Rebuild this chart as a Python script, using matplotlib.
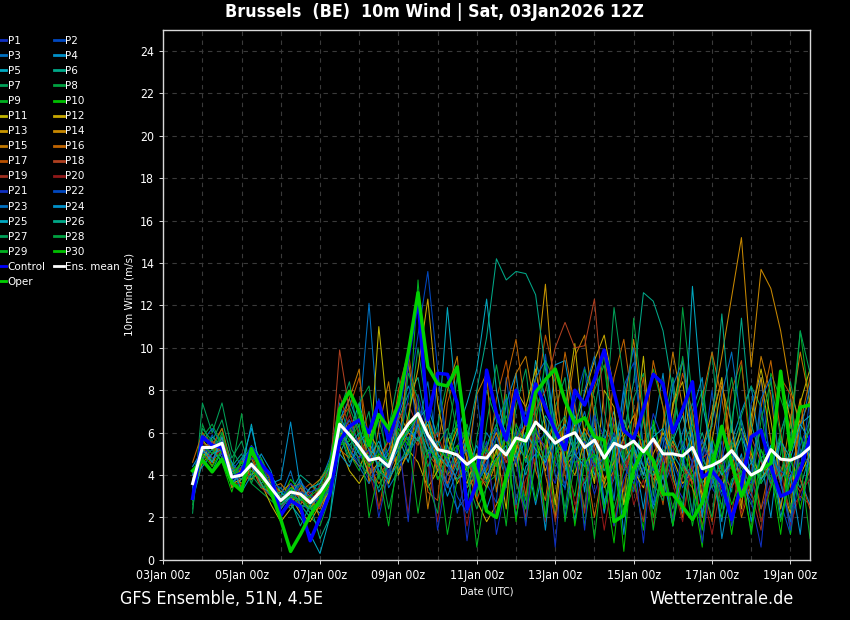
import matplotlib
matplotlib.use("Agg")
import matplotlib.pyplot as plt
import matplotlib.dates as mdates
import pandas as pd

# ---- data (m/s), 6-hourly from 03Jan 18z to 19Jan 12z ----
times = pd.date_range("2026-01-03 18:00", periods=64, freq="6h")

ens_mean = [3.6, 5.3, 5.3, 5.5, 3.9, 4.0, 4.5, 4.0, 3.4, 2.8, 3.2, 3.1, 2.7, 3.2, 3.9, 6.4,
            5.9, 5.35, 4.7, 4.8, 4.4, 5.7, 6.4, 6.9, 5.9, 5.2, 5.1, 4.95, 4.5, 4.85, 4.8, 5.4,
            4.95, 5.75, 5.6, 6.5, 6.05, 5.5, 5.8, 6.0, 5.3, 5.65, 4.8, 5.5, 5.3, 5.6, 5.1, 5.7,
            5.0, 5.0, 4.9, 5.3, 4.3, 4.45, 4.7, 5.15, 4.55, 4.0, 4.25, 5.2, 4.75, 4.7, 4.9, 5.3]

control = [2.9, 5.8, 5.4, 5.3, 3.85, 4.1, 5.3, 4.5, 4.0, 2.1, 2.8, 2.5, 0.9, 2.0, 3.1, 5.6,
           6.3, 6.6, 6.0, 7.45, 5.6, 7.1, 9.6, 12.3, 6.6, 8.8, 8.75, 7.4, 2.4, 3.6, 8.95, 6.9,
           5.65, 8.0, 6.4, 8.3, 7.2, 6.1, 5.2, 8.0, 7.3, 8.5, 9.9, 7.9, 6.1, 5.7, 7.1, 8.75,
           8.3, 6.0, 7.1, 8.4, 3.9, 4.2, 3.6, 1.9, 3.5, 5.8, 6.1, 4.4, 3.0, 3.2, 4.2, 5.8]

oper = [4.2, 4.7, 4.15, 4.75, 3.65, 3.25, 5.25, 4.2, 3.2, 1.9, 0.4, 1.2, 2.1, 2.8, 4.0, 7.1,
        7.95, 7.0, 5.4, 6.85, 6.2, 7.35, 9.75, 12.6, 9.1, 8.3, 8.2, 9.1, 5.5, 4.1, 2.3, 2.0,
        3.9, 5.7, 5.6, 7.9, 8.5, 9.0, 7.5, 6.45, 6.7, 5.8, 5.65, 1.8, 2.1, 4.25, 5.25, 4.7,
        3.1, 3.1, 2.5, 1.9, 2.7, 4.4, 6.3, 4.55, 3.0, 4.0, 4.25, 4.55, 8.9, 5.2, 7.2, 7.3]

p01 = [3.1, 5.6, 5.0, 5.8, 3.6, 4.2, 4.8, 3.5, 3.0, 2.4, 3.6, 2.9, 2.2, 3.0, 4.4, 6.8,
       5.2, 4.6, 3.8, 4.1, 5.2, 6.4, 5.1, 7.8, 6.0, 4.2, 3.5, 5.4, 6.1, 3.8, 4.4, 6.2,
       4.1, 5.0, 7.2, 6.3, 4.5, 3.6, 5.8, 7.4, 4.9, 3.1, 4.6, 6.7, 5.0, 3.2, 4.4, 6.9,
       5.6, 3.8, 2.9, 4.6, 5.7, 3.4, 2.6, 4.8, 6.2, 3.9, 2.4, 3.6, 5.5, 4.2, 2.8, 4.6]
p02 = [3.8, 5.0, 5.9, 5.1, 4.2, 3.6, 4.0, 4.7, 3.8, 2.2, 2.9, 3.7, 3.1, 2.5, 3.6, 5.9,
       6.4, 5.0, 4.2, 7.6, 3.9, 4.8, 9.2, 6.0, 3.6, 8.8, 5.4, 2.2, 4.0, 7.9, 3.6, 2.7,
       8.6, 5.2, 2.4, 4.6, 9.7, 6.0, 3.3, 7.4, 9.1, 5.0, 2.3, 4.4, 8.2, 9.3, 5.1, 2.6,
       4.0, 8.4, 5.2, 2.1, 4.6, 8.0, 4.2, 1.9, 3.3, 7.4, 8.6, 4.1, 2.7, 1.2, 4.3, 7.6]
p03 = [4.0, 5.4, 4.6, 6.0, 4.6, 4.0, 5.0, 4.4, 3.2, 3.0, 4.2, 2.6, 2.0, 3.6, 4.8, 7.4,
       5.8, 6.6, 12.1, 6.0, 3.4, 4.2, 5.6, 6.2, 8.4, 5.0, 3.6, 2.4, 3.0, 4.4, 6.0, 5.2,
       3.8, 6.2, 4.6, 7.8, 6.6, 4.0, 3.4, 5.6, 7.0, 4.6, 2.8, 3.8, 5.8, 4.4, 6.6, 4.8,
       3.4, 4.6, 6.0, 7.4, 5.0, 3.6, 4.8, 6.4, 4.0, 3.0, 5.2, 3.8, 2.6, 4.4, 5.8, 4.9]
p04 = [4.4, 5.2, 5.6, 4.8, 4.0, 4.6, 6.2, 4.2, 3.6, 3.8, 6.5, 3.4, 2.6, 2.2, 3.4, 6.6,
       7.6, 6.2, 4.8, 3.2, 4.0, 6.8, 8.2, 7.0, 5.4, 4.6, 3.0, 4.2, 5.8, 3.6, 2.4, 3.8,
       7.4, 8.8, 5.0, 2.6, 4.8, 9.2, 9.4, 6.6, 3.2, 7.2, 2.6, 4.8, 8.0, 5.2, 2.4, 6.0,
       8.8, 4.4, 2.2, 7.0, 8.6, 4.0, 1.8, 5.6, 7.0, 8.2, 4.8, 2.0, 6.0, 7.6, 3.8, 2.6]
p05 = [2.8, 4.6, 5.8, 5.4, 3.4, 3.8, 4.4, 3.6, 4.0, 3.2, 2.6, 2.0, 1.2, 0.3, 2.0, 5.0,
       6.0, 7.4, 5.6, 4.4, 5.0, 5.8, 4.6, 6.6, 7.2, 5.8, 11.9, 7.0, 4.8, 3.4, 5.2, 7.0,
       6.0, 4.4, 5.8, 9.4, 7.6, 5.4, 4.2, 6.8, 5.6, 4.0, 5.6, 7.0, 4.6, 3.8, 5.4, 6.4,
       4.4, 5.6, 6.8, 5.0, 3.6, 4.4, 6.0, 5.2, 3.8, 4.6, 6.2, 5.0, 3.6, 5.2, 6.4, 6.8]
p06 = [3.4, 4.8, 4.2, 5.2, 4.4, 5.0, 3.8, 4.6, 3.4, 2.6, 3.2, 4.0, 3.6, 3.2, 4.2, 6.0,
       4.6, 5.2, 4.0, 5.4, 3.6, 6.6, 7.8, 8.6, 6.0, 4.4, 5.6, 6.4, 4.2, 5.0, 3.8, 4.6,
       6.0, 5.2, 4.0, 5.6, 6.8, 6.0, 4.8, 5.0, 3.6, 4.4, 6.2, 5.4, 6.0, 8.4, 12.6, 12.2,
       10.8, 8.0, 5.4, 4.6, 6.0, 4.4, 3.2, 5.2, 6.6, 4.8, 3.6, 4.4, 5.8, 4.2, 3.4, 5.0]
p07 = [2.2, 7.4, 6.0, 7.4, 5.2, 4.4, 5.4, 4.8, 3.6, 3.0, 2.8, 2.4, 3.0, 3.8, 4.6, 7.0,
       8.4, 5.6, 7.0, 3.8, 6.2, 8.6, 6.4, 10.0, 6.8, 3.8, 4.6, 7.4, 2.6, 5.8, 8.0, 6.6,
       3.4, 7.2, 9.0, 5.0, 2.0, 7.2, 8.6, 4.6, 2.4, 7.0, 9.8, 4.4, 2.6, 7.6, 8.8, 3.0,
       6.2, 8.6, 4.8, 2.2, 7.0, 9.8, 4.6, 3.2, 6.8, 8.2, 7.2, 3.4, 5.0, 8.4, 6.0, 3.2]
p08 = [2.6, 6.4, 5.2, 6.2, 4.2, 6.9, 3.6, 3.2, 2.8, 2.4, 3.4, 2.6, 2.0, 1.6, 3.0, 5.6,
       7.2, 6.0, 4.4, 5.2, 3.8, 4.6, 5.2, 6.2, 4.8, 6.4, 8.4, 6.0, 3.8, 2.4, 3.4, 5.8,
       4.8, 5.6, 7.0, 8.0, 5.6, 4.4, 5.2, 6.2, 4.6, 3.8, 5.0, 6.4, 4.8, 4.2, 5.6, 4.6,
       3.8, 5.0, 11.9, 7.6, 4.6, 3.4, 4.2, 5.4, 3.6, 2.6, 3.8, 4.4, 6.0, 7.4, 5.2, 4.4]
p09 = [3.2, 5.8, 4.6, 5.6, 3.8, 3.4, 4.2, 3.8, 3.0, 3.4, 2.8, 3.6, 2.4, 3.4, 4.0, 6.2,
       5.0, 4.2, 5.8, 6.6, 4.8, 5.4, 6.0, 13.2, 7.0, 4.8, 4.0, 5.2, 6.4, 4.6, 3.6, 4.0,
       7.8, 4.6, 2.8, 6.4, 9.4, 8.4, 4.6, 3.0, 6.2, 8.0, 9.2, 5.4, 2.2, 3.4, 6.8, 9.0,
       7.2, 3.8, 2.6, 6.6, 8.0, 5.0, 2.4, 6.6, 9.2, 5.4, 3.6, 8.8, 7.6, 6.2, 10.8, 7.2]
p10 = [3.0, 5.0, 5.4, 4.6, 3.2, 4.8, 5.2, 4.0, 3.6, 2.8, 3.8, 3.2, 2.8, 3.0, 3.6, 5.4,
       5.6, 6.8, 4.6, 4.0, 4.4, 6.2, 5.4, 6.6, 5.0, 3.8, 4.6, 6.6, 5.4, 3.2, 4.2, 5.0,
       6.8, 5.4, 1.8, 4.6, 6.2, 2.0, 4.4, 5.6, 1.6, 4.8, 3.8, 0.8, 5.4, 4.0, 1.4, 6.6,
       4.6, 1.6, 4.0, 3.4, 0.6, 5.8, 4.2, 1.2, 4.6, 5.4, 1.8, 3.4, 5.8, 1.2, 5.8, 4.8]
p11 = [3.6, 5.2, 4.8, 5.0, 3.6, 3.8, 4.6, 3.6, 2.6, 1.8, 2.4, 3.0, 2.6, 3.4, 4.0, 5.4,
       4.2, 3.6, 4.4, 11.0, 6.4, 4.0, 5.2, 4.6, 3.4, 4.2, 5.8, 4.4, 3.6, 5.0, 3.8, 5.2,
       2.4, 8.0, 7.2, 9.0, 6.2, 2.6, 7.0, 10.2, 5.6, 3.6, 8.0, 7.2, 2.6, 5.4, 9.6, 4.2,
       3.0, 7.4, 8.4, 5.2, 2.8, 6.6, 8.6, 4.4, 2.4, 6.8, 9.0, 6.6, 3.6, 2.2, 7.4, 9.0]
p12 = [4.2, 4.8, 5.6, 5.2, 3.8, 4.2, 4.0, 4.4, 3.8, 2.6, 3.0, 2.2, 1.8, 2.6, 3.2, 5.8,
       6.6, 5.4, 4.0, 4.6, 3.6, 5.0, 6.8, 9.0, 12.3, 7.4, 5.0, 3.6, 4.4, 2.8, 1.8, 2.6,
       3.6, 5.2, 6.4, 5.6, 4.2, 5.8, 4.6, 6.4, 7.8, 9.4, 10.6, 8.0, 5.6, 4.2, 3.4, 5.0,
       6.0, 4.8, 3.6, 4.2, 5.6, 4.4, 3.4, 4.8, 6.2, 5.0, 3.8, 4.6, 8.6, 6.6, 4.0, 5.0]
p13 = [3.4, 5.6, 5.2, 5.4, 4.0, 3.6, 4.4, 3.4, 3.2, 2.2, 2.6, 3.4, 3.0, 2.0, 3.8, 6.0,
       5.4, 4.8, 6.0, 5.2, 4.6, 7.0, 6.0, 5.6, 6.4, 4.6, 3.6, 4.8, 6.0, 4.2, 3.4, 4.6,
       5.8, 4.4, 6.6, 8.6, 13.0, 7.0, 4.8, 4.0, 5.6, 4.4, 3.6, 5.0, 6.6, 5.2, 4.0, 5.6,
       4.6, 7.2, 9.4, 6.0, 3.0, 5.6, 8.2, 6.4, 3.0, 6.0, 8.6, 5.6, 2.4, 5.2, 7.6, 4.2]
p14 = [3.8, 5.4, 4.4, 5.8, 4.2, 4.0, 3.8, 4.2, 3.6, 3.2, 3.6, 2.8, 2.4, 3.2, 4.2, 6.4,
       5.0, 4.4, 5.2, 4.8, 5.6, 4.2, 5.0, 7.2, 5.8, 4.2, 5.0, 6.2, 4.8, 3.6, 5.0, 6.0,
       4.6, 5.4, 4.8, 6.0, 5.2, 6.6, 4.4, 5.0, 6.2, 5.4, 3.8, 4.6, 5.8, 6.8, 5.0, 3.8,
       4.4, 5.6, 4.6, 3.6, 5.2, 7.0, 9.6, 12.4, 15.2, 9.1, 13.7, 12.8, 10.8, 8.0, 6.4, 7.6]
p15 = [3.2, 4.6, 5.0, 5.6, 3.4, 4.4, 4.8, 3.8, 3.4, 3.6, 3.0, 2.6, 3.4, 3.8, 4.4, 6.2,
       7.6, 9.0, 3.6, 6.2, 8.4, 5.2, 9.4, 6.4, 2.4, 5.4, 8.0, 9.6, 4.6, 7.8, 8.8, 3.2,
       6.0, 8.8, 9.6, 7.0, 4.0, 2.0, 6.4, 9.6, 10.6, 6.6, 3.4, 4.2, 7.0, 10.4, 6.6, 3.4,
       6.4, 9.8, 7.2, 3.4, 2.0, 6.8, 8.4, 5.2, 2.6, 6.4, 9.6, 7.8, 3.8, 6.6, 9.8, 7.4]
p16 = [4.6, 6.0, 5.4, 6.2, 4.4, 3.4, 4.2, 4.0, 3.0, 2.8, 3.4, 3.6, 2.8, 2.4, 3.6, 5.2,
       4.8, 5.8, 4.4, 3.6, 4.2, 5.0, 6.0, 5.4, 6.8, 5.4, 4.0, 4.6, 3.4, 4.0, 5.4, 4.4,
       8.4, 10.4, 7.0, 4.2, 2.8, 6.4, 9.8, 7.2, 4.8, 2.0, 4.6, 8.6, 10.4, 7.0, 5.0, 9.4,
       7.2, 4.0, 2.0, 4.6, 7.6, 9.8, 7.6, 4.8, 2.0, 3.6, 7.2, 9.4, 6.0, 3.4, 6.4, 8.6]
p17 = [3.6, 5.0, 4.6, 5.4, 3.8, 4.6, 5.0, 3.8, 3.8, 3.0, 2.8, 3.2, 3.6, 3.0, 4.6, 6.6,
       7.2, 8.6, 5.6, 2.4, 4.8, 8.0, 9.8, 6.8, 3.2, 2.8, 7.4, 9.0, 5.8, 2.8, 4.2, 7.6,
       9.4, 6.0, 3.0, 7.4, 10.6, 8.6, 4.0, 2.2, 5.4, 8.2, 9.8, 6.2, 3.2, 6.4, 8.6, 4.8,
       2.6, 6.6, 8.8, 7.0, 3.6, 1.8, 5.0, 8.0, 9.4, 4.6, 2.4, 4.6, 8.6, 7.8, 3.8, 2.4]
p18 = [3.0, 5.2, 5.6, 5.0, 4.0, 3.8, 4.4, 4.2, 3.2, 2.6, 3.0, 3.4, 2.8, 3.2, 4.0, 9.9,
       7.0, 5.2, 4.6, 4.0, 4.6, 5.4, 6.6, 6.0, 5.0, 4.4, 3.6, 5.0, 4.6, 3.8, 4.8, 5.4,
       4.6, 5.6, 6.4, 7.0, 8.0, 10.0, 11.2, 10.0, 10.1, 12.3, 7.0, 5.0, 4.2, 5.2, 4.4, 3.8,
       4.6, 5.4, 4.4, 3.6, 4.8, 5.2, 4.0, 3.4, 4.4, 5.8, 4.6, 3.6, 4.8, 4.0, 3.2, 4.2]
p19 = [3.8, 4.8, 5.0, 5.8, 4.4, 4.2, 4.6, 3.4, 3.0, 2.4, 3.2, 3.0, 3.2, 2.6, 4.2, 7.8,
       6.2, 5.6, 5.0, 4.6, 5.6, 6.6, 7.4, 6.2, 5.4, 6.0, 4.4, 3.8, 4.6, 4.0, 3.6, 4.8,
       5.2, 3.8, 2.0, 5.8, 5.4, 1.8, 4.6, 5.4, 2.2, 5.8, 5.0, 1.6, 4.8, 3.6, 1.8, 5.6,
       4.2, 2.0, 4.0, 4.4, 1.6, 3.8, 4.6, 2.2, 4.8, 3.2, 1.4, 5.0, 3.6, 2.4, 3.0, 2.6]
p20 = [3.4, 5.6, 4.8, 5.2, 3.6, 3.6, 4.2, 4.4, 3.8, 3.0, 2.6, 2.8, 2.6, 3.6, 3.8, 5.6,
       6.8, 6.0, 4.2, 2.4, 4.0, 5.6, 2.2, 5.8, 4.6, 1.8, 5.2, 4.4, 1.6, 4.6, 5.0, 2.0,
       5.0, 2.4, 3.8, 4.8, 1.8, 4.8, 5.4, 2.6, 3.8, 4.6, 1.4, 4.2, 5.6, 2.6, 3.8, 1.6,
       5.0, 3.6, 1.8, 4.8, 3.4, 1.2, 3.8, 4.4, 2.2, 4.0, 1.8, 3.6, 4.4, 1.6, 3.2, 3.8]
p21 = [3.6, 5.0, 5.4, 5.6, 4.0, 4.4, 4.8, 4.6, 3.4, 2.8, 3.6, 3.2, 3.0, 2.8, 3.4, 5.8,
       5.4, 4.8, 5.2, 2.0, 4.2, 5.8, 1.8, 7.4, 5.6, 1.4, 4.2, 5.2, 0.9, 4.4, 5.6, 1.2,
       3.6, 4.8, 1.6, 6.2, 5.2, 0.6, 6.2, 5.4, 1.4, 6.8, 5.8, 1.6, 3.8, 5.0, 0.8, 5.8,
       4.8, 1.8, 5.6, 4.6, 0.8, 4.2, 5.6, 1.6, 3.6, 2.8, 0.6, 5.4, 3.8, 1.4, 5.2, 4.4]
p22 = [3.2, 5.4, 4.8, 5.0, 3.6, 4.0, 4.4, 3.8, 3.6, 3.4, 2.8, 3.6, 3.2, 3.4, 3.8, 6.0,
       6.6, 5.4, 4.6, 5.2, 4.0, 5.4, 7.6, 10.6, 13.6, 9.0, 4.6, 3.0, 2.2, 3.6, 4.6, 5.8,
       4.2, 5.8, 7.0, 5.4, 6.0, 4.6, 3.6, 4.8, 5.6, 4.4, 4.8, 6.0, 4.4, 3.6, 5.0, 4.2,
       5.8, 4.6, 3.4, 4.6, 5.6, 4.4, 3.0, 5.0, 4.2, 3.6, 7.2, 4.8, 4.2, 3.8, 5.4, 6.6]
p23 = [4.0, 5.6, 6.2, 5.4, 4.2, 4.8, 5.2, 4.2, 3.4, 2.8, 3.4, 2.6, 2.4, 2.6, 4.0, 6.4,
       5.2, 4.4, 3.6, 4.6, 5.2, 6.6, 5.6, 7.0, 5.8, 4.6, 3.4, 4.6, 5.2, 3.6, 4.4, 6.4,
       7.6, 2.6, 5.2, 8.6, 9.4, 5.4, 2.0, 5.4, 8.0, 9.6, 5.8, 2.8, 7.6, 10.0, 5.2, 2.6,
       5.4, 8.2, 9.4, 5.6, 2.2, 3.6, 7.8, 9.8, 6.4, 3.8, 7.6, 8.6, 3.6, 1.8, 6.0, 8.2]
p24 = [3.8, 4.4, 5.0, 5.2, 4.6, 3.2, 4.0, 5.0, 4.2, 2.4, 3.0, 3.8, 2.6, 3.0, 3.6, 5.0,
       4.4, 5.6, 6.0, 4.2, 3.8, 4.6, 5.0, 6.4, 5.0, 5.6, 4.6, 3.8, 4.2, 5.4, 4.0, 4.8,
       5.4, 2.0, 4.4, 5.0, 1.4, 6.2, 4.8, 1.8, 5.2, 6.2, 2.2, 5.6, 1.2, 5.8, 4.4, 2.4,
       4.0, 1.6, 4.6, 6.0, 2.0, 5.6, 1.0, 3.6, 5.0, 1.8, 4.2, 5.4, 2.0, 4.0, 1.2, 5.6]
p25 = [3.4, 5.2, 4.6, 5.8, 3.6, 4.2, 6.4, 4.0, 3.2, 2.6, 3.0, 2.8, 3.4, 3.6, 4.4, 6.8,
       5.8, 5.0, 4.8, 5.6, 4.4, 5.2, 6.2, 5.6, 6.6, 5.0, 4.4, 6.0, 7.4, 9.0, 12.3, 8.0,
       5.6, 4.8, 6.0, 5.2, 4.6, 5.8, 6.4, 5.0, 4.4, 5.6, 4.8, 5.8, 4.6, 5.4, 4.0, 5.8,
       6.2, 5.0, 4.2, 12.9, 7.4, 5.0, 4.0, 4.6, 5.8, 4.6, 3.8, 4.4, 5.6, 4.8, 6.4, 5.6]
p26 = [3.6, 4.8, 5.2, 4.6, 4.2, 3.8, 4.6, 3.6, 3.0, 3.2, 2.8, 1.6, 2.6, 1.0, 2.0, 6.2,
       5.4, 6.0, 5.2, 4.4, 4.8, 5.6, 6.0, 6.8, 5.4, 4.6, 5.4, 4.2, 5.6, 8.0, 10.5, 14.2,
       13.2, 13.6, 13.5, 12.5, 9.0, 6.4, 4.6, 5.4, 6.0, 5.0, 4.2, 5.6, 6.6, 5.2, 4.4, 4.0,
       5.0, 5.8, 4.6, 3.8, 5.2, 6.4, 11.6, 6.0, 11.4, 6.4, 4.8, 5.2, 3.8, 4.6, 5.0, 6.2]
p27 = [3.0, 6.2, 5.6, 6.6, 4.8, 5.6, 4.0, 3.4, 3.6, 3.0, 2.4, 3.0, 2.2, 2.6, 3.4, 5.4,
       6.0, 4.6, 4.0, 3.4, 4.6, 6.0, 5.0, 5.8, 4.4, 5.4, 6.2, 4.8, 3.4, 4.6, 5.4, 6.4,
       5.0, 5.8, 4.6, 5.6, 4.8, 6.0, 6.8, 5.2, 5.8, 4.6, 6.0, 11.9, 8.4, 5.0, 3.8, 4.4,
       5.2, 4.6, 5.4, 6.4, 4.8, 3.8, 4.4, 5.6, 4.4, 3.4, 4.8, 3.6, 4.2, 5.4, 10.8, 8.8]
p28 = [2.4, 5.8, 6.4, 5.4, 3.8, 4.6, 3.6, 4.8, 3.8, 2.6, 3.2, 2.4, 2.8, 3.2, 4.2, 6.0,
       4.8, 7.4, 8.2, 4.8, 2.4, 4.4, 8.8, 7.6, 3.6, 2.2, 5.8, 8.6, 6.0, 3.0, 6.4, 9.2,
       6.4, 3.6, 2.4, 7.0, 8.6, 5.4, 2.4, 5.8, 9.0, 7.6, 4.6, 2.4, 4.2, 11.4, 7.0, 3.6,
       2.8, 6.2, 9.6, 6.6, 3.6, 2.0, 6.0, 8.6, 5.8, 3.2, 6.6, 8.4, 5.8, 2.4, 4.0, 6.8]
p29 = [3.2, 5.4, 5.0, 6.0, 4.4, 4.0, 5.0, 4.4, 3.0, 2.8, 3.0, 2.8, 3.0, 3.4, 4.6, 6.6,
       5.6, 6.4, 2.0, 4.2, 1.6, 5.2, 5.8, 2.2, 5.2, 4.8, 1.2, 3.8, 4.6, 0.6, 3.6, 4.8,
       1.6, 6.4, 5.4, 2.8, 5.6, 6.6, 1.8, 4.6, 4.8, 1.0, 5.2, 4.2, 2.0, 6.0, 5.6, 1.4,
       4.4, 2.4, 4.4, 1.6, 4.2, 4.4, 2.0, 3.8, 4.2, 1.2, 4.4, 4.6, 1.8, 3.8, 4.6, 1.0]
p30 = [2.8, 5.0, 4.4, 5.2, 4.0, 4.6, 4.2, 3.8, 3.4, 2.8, 3.4, 3.0, 2.4, 2.8, 3.6, 5.8,
       6.2, 5.2, 4.4, 5.0, 4.6, 5.4, 6.2, 6.8, 5.8, 5.2, 4.8, 5.4, 4.2, 4.8, 5.2, 4.4,
       5.8, 1.8, 5.6, 6.2, 2.0, 5.0, 5.6, 1.6, 4.6, 5.0, 2.4, 5.2, 0.4, 5.6, 5.2, 2.0,
       4.6, 1.6, 5.2, 4.0, 1.4, 5.0, 4.4, 2.6, 3.8, 1.4, 5.2, 4.2, 1.2, 5.0, 2.4, 4.6]

members = [p01, p02, p03, p04, p05, p06, p07, p08, p09, p10,
           p11, p12, p13, p14, p15, p16, p17, p18, p19, p20,
           p21, p22, p23, p24, p25, p26, p27, p28, p29, p30]
member_labels = [f"P{i}" for i in range(1, 31)]

# colours of P1..P20, P21..P30 repeat the first ten
pal = ["#1030c0", "#0048c0", "#0070c0", "#0090c8", "#00a8c0",
       "#00a888", "#00a058", "#00a040", "#00b020", "#00c000",
       "#c0b400", "#c8a800", "#c89600", "#c88800", "#c07800",
       "#c06400", "#b85000", "#b04020", "#a03020", "#901818"]
member_colors = pal + pal[:10]

cond = dict(fontstretch="condensed")

fig = plt.figure(figsize=(8.5, 6.2), dpi=100, facecolor="black")
ax = fig.add_axes([0.192, 0.097, 0.761, 0.855])
ax.set_facecolor("black")

handles = []
for vals, lab, col in zip(members, member_labels, member_colors):
    h, = ax.plot(times, vals, color=col, lw=0.75, label=lab, zorder=2)
    handles.append(h)
h_ctrl, = ax.plot(times, control, color="#0000ff", lw=2.5, label="Control", zorder=3)
h_oper, = ax.plot(times, oper, color="#00d000", lw=2.5, label="Oper", zorder=4)
h_mean, = ax.plot(times, ens_mean, color="white", lw=2.2, label="Ens. mean", zorder=5)

ax.set_xlim(pd.Timestamp("2026-01-03 00:00"), pd.Timestamp("2026-01-19 12:00"))
ax.set_ylim(0, 25)
ax.set_yticks(range(0, 25, 2))
ax.xaxis.set_major_locator(mdates.DayLocator(bymonthday=range(1, 32, 2)))
ax.xaxis.set_minor_locator(mdates.DayLocator())
ax.xaxis.set_major_formatter(mdates.DateFormatter("%d%b %Hz"))

ax.grid(True, which="both", color="#3a3a3a", ls=(0, (4, 4)), lw=0.8)
ax.set_axisbelow(True)
for s in ax.spines.values():
    s.set_color("#d8d8d8")
    s.set_linewidth(1.0)
ax.tick_params(colors="white", labelsize=8.8, length=3, width=0.6)
ax.tick_params(which="minor", length=0)
for t in ax.get_xticklabels() + ax.get_yticklabels():
    t.set_fontstretch("condensed")

ax.set_ylabel("10m Wind (m/s)", color="white", fontsize=7.5, labelpad=4)
ax.set_xlabel("Date (UTC)", color="white", fontsize=7.8, labelpad=3, **cond)

fig.text(0.511, 0.981, "Brussels  (BE)  10m Wind | Sat, 03Jan2026 12Z", color="white",
         fontsize=12.8, fontweight="bold", ha="center", va="center", **cond)
fig.text(0.141, 0.034, "GFS Ensemble, 51N, 4.5E", color="white", fontsize=12.8,
         ha="left", va="center", **cond)
fig.text(0.934, 0.034, "Wetterzentrale.de", color="white", fontsize=12.8,
         ha="right", va="center", **cond)

# legend filled row by row like the original: odd members left, even right
col1 = handles[0::2] + [h_ctrl, h_oper]
col2 = handles[1::2] + [h_mean]
leg = fig.legend(handles=col1 + col2, loc="upper left", bbox_to_anchor=(-0.004, 0.942),
                 ncol=2, frameon=False, fontsize=7.5, handlelength=0.9,
                 handletextpad=0.15, labelspacing=0.485, columnspacing=0.85,
                 borderpad=0, borderaxespad=0)
for t in leg.get_texts():
    t.set_color("white")
for lh in leg.get_lines():
    lh.set_linewidth(2.0)

fig.savefig("out.png", dpi=100, facecolor="black")
